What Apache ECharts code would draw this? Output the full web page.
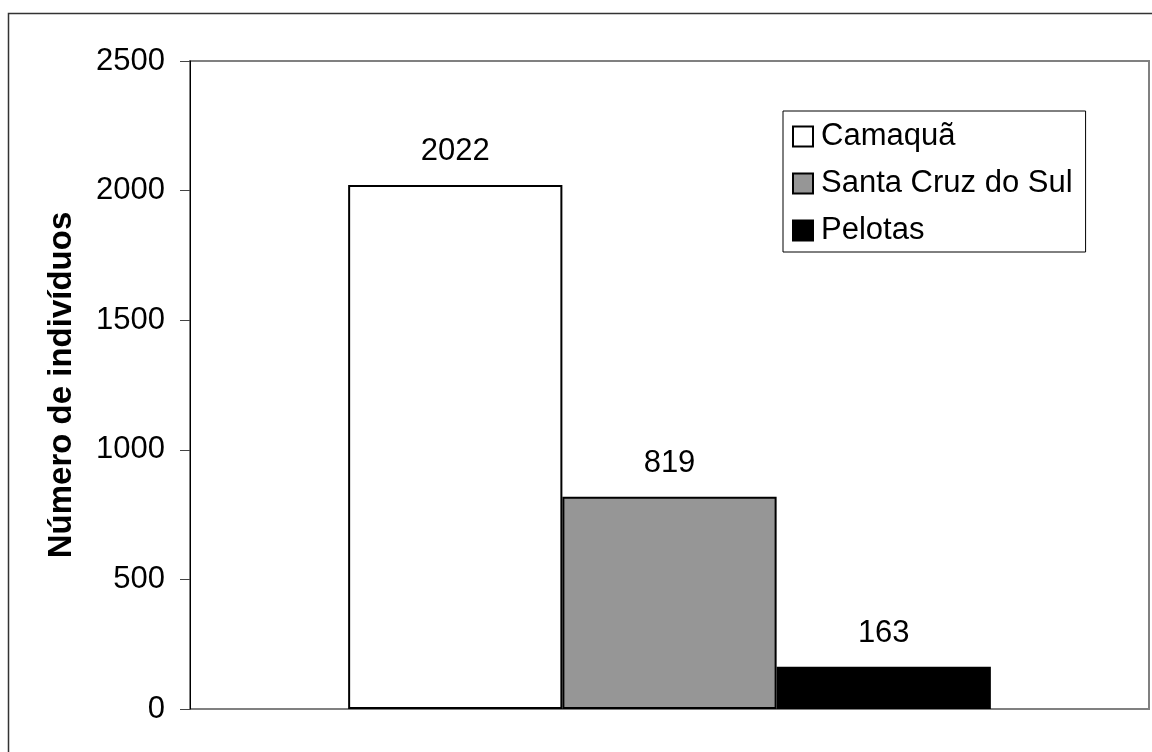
<!DOCTYPE html>
<html>
<head>
<meta charset="utf-8">
<script src="https://cdn.jsdelivr.net/npm/echarts@6/dist/echarts.min.js"></script>
<style>
html,body{margin:0;padding:0;background:#fff;}
#c{width:1152px;height:752px;}
</style>
</head>
<body>
<div id="c"></div>
<script>
var categories = [''];
var seriesNames = ['Camaquã', 'Santa Cruz do Sul', 'Pelotas'];
var camaqua = [2022];
var santaCruz = [819];
var pelotas = [163];
var seriesColors = ['#ffffff', '#969696', '#000000'];
var yTicks = { min: 0, max: 2500, interval: 500 };
var yAxisTitle = 'Número de indivíduos';

var FONT = '"Liberation Sans", Arial, sans-serif';
var chart = echarts.init(document.getElementById('c'), null, { renderer: 'canvas' });
var values = [camaqua, santaCruz, pelotas];

var series = seriesNames.map(function (name, i) {
  return {
    name: name,
    type: 'bar',
    data: values[i],
    barWidth: '22.34%',
    barGap: '0%',
    itemStyle: { color: seriesColors[i], borderColor: '#000', borderWidth: 2 },
    label: {
      show: true, position: 'top', distance: 18,
      color: '#000', fontSize: 31, fontFamily: FONT
    },
    emphasis: { disabled: true }
  };
});

chart.setOption({
  animation: false,
  backgroundColor: '#fff',
  grid: {
    left: 190, top: 61, right: 3, bottom: 43,
    show: true, borderColor: '#808080', borderWidth: 2, backgroundColor: 'transparent'
  },
  legend: {
    orient: 'vertical',
    left: 783, top: 111,
    padding: [10, 13, 6, 9],
    borderColor: '#000', borderWidth: 1,
    backgroundColor: '#fff',
    itemWidth: 20, itemHeight: 20, itemGap: 16,
    icon: 'rect',
    textStyle: { fontSize: 31, fontFamily: FONT, color: '#000', lineHeight: 30, padding: [0, 0, 0, 3] },
    data: seriesNames.map(function (n, i) {
      return { name: n, itemStyle: { color: seriesColors[i], borderColor: '#000', borderWidth: 2 } };
    })
  },
  xAxis: {
    type: 'category',
    data: categories,
    axisLine: { show: false },
    axisTick: { show: false },
    axisLabel: { show: false }
  },
  yAxis: {
    type: 'value',
    min: yTicks.min, max: yTicks.max, interval: yTicks.interval,
    name: yAxisTitle,
    nameLocation: 'middle',
    nameGap: 112,
    nameRotate: 90,
    nameTextStyle: { fontSize: 33, fontWeight: 'bold', fontFamily: FONT, color: '#000' },
    axisLine: { show: true, lineStyle: { color: '#000', width: 1 } },
    axisTick: { show: true, length: 10, lineStyle: { color: '#444', width: 1 } },
    axisLabel: {
      fontSize: 31, fontFamily: FONT, color: '#000', margin: 25,
      formatter: function (v) { return String(v); }
    },
    splitLine: { show: false }
  },
  series: series,
  graphic: [{
    type: 'rect',
    shape: { x: 8.5, y: 13.5, width: 1300, height: 900 },
    style: { fill: 'none', stroke: '#333', lineWidth: 1.5 },
    silent: true
  }]
});
</script>
</body>
</html>
